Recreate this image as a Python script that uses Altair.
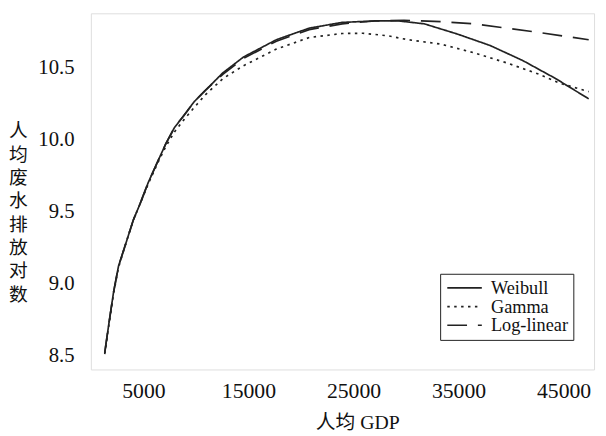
import altair as alt
import pandas as pd

# Weibull fitted curve
weibull_x = [1320, 1690, 2160, 2630, 3250, 4040, 4670, 5460, 6390, 7140,
             7950, 8910, 9830, 10920, 12560, 14530, 17660, 20780, 23920, 27040,
             29320, 31740, 34860, 38000, 41130, 44260, 47390]
weibull_y = [8.52, 8.71, 8.94, 9.12, 9.26, 9.44, 9.55, 9.70, 9.85, 9.97,
             10.08, 10.17, 10.26, 10.34, 10.46, 10.57, 10.69, 10.77, 10.81, 10.82,
             10.82, 10.80, 10.73, 10.65, 10.545, 10.42, 10.28]

# Gamma fitted curve
gamma_x = [1320, 1690, 2160, 2630, 3250, 4040, 4670, 5460, 6390, 7140,
           7950, 8910, 9830, 10920, 12560, 14530, 17660, 20780, 23920, 25870,
           28290, 30170, 33300, 36430, 39560, 42700, 44570, 47390]
gamma_y = [8.51, 8.70, 8.93, 9.11, 9.26, 9.44, 9.55, 9.69, 9.84, 9.95,
           10.05, 10.14, 10.22, 10.31, 10.42, 10.51, 10.625, 10.705, 10.733, 10.735,
           10.717, 10.69, 10.66, 10.60, 10.53, 10.45, 10.39, 10.33]

# Log-linear fitted curve
loglin_x = [1320, 1690, 2160, 2630, 3250, 4040, 4670, 5460, 6390, 7140,
            7950, 8910, 9830, 10920, 12560, 14530, 17660, 20780, 23920, 27040,
            29810, 33300, 36430, 39560, 42700, 47390]
loglin_y = [8.52, 8.71, 8.94, 9.12, 9.26, 9.44, 9.55, 9.70, 9.85, 9.97,
            10.08, 10.17, 10.26, 10.34, 10.45, 10.56, 10.68, 10.76, 10.80, 10.82,
            10.825, 10.815, 10.80, 10.77, 10.74, 10.69]

series_names = ["Weibull", "Gamma", "Log-linear"]
x_ticks = [5000, 15000, 25000, 35000, 45000]
y_ticks = [8.5, 9.0, 9.5, 10.0, 10.5]
y_title_chars = ["人", "均", "废", "水", "排", "放", "对", "数"]
x_title = "人均 GDP"

rows = []
for name, xs, ys in [("Weibull", weibull_x, weibull_y),
                     ("Gamma", gamma_x, gamma_y),
                     ("Log-linear", loglin_x, loglin_y)]:
    for i, (a, b) in enumerate(zip(xs, ys)):
        rows.append({"series": name, "gdp": a, "val": b, "order": i})
df = pd.DataFrame(rows)

SERIF = "Liberation Serif, Noto Sans CJK SC"
CJK = "Noto Sans CJK SC"

chart = alt.Chart(df).mark_line(strokeWidth=1.7, color="#222", strokeCap="butt").encode(
    x=alt.X("gdp:Q",
            scale=alt.Scale(domain=[0, 47900], nice=False, zero=False),
            axis=alt.Axis(values=x_ticks, format="d", title=x_title,
                          grid=False, ticks=False, domain=False,
                          labelFont=SERIF, labelFontSize=22, labelColor="#111",
                          labelPadding=11,
                          titleFont=SERIF, titleFontSize=20, titleFontWeight="normal",
                          titleColor="#111", titleX=270, titleY=54,
                          titleAlign="center", titleBaseline="middle")),
    y=alt.Y("val:Q",
            scale=alt.Scale(domain=[8.404, 10.873], nice=False, zero=False),
            axis=alt.Axis(values=y_ticks, format=".1f", title=y_title_chars,
                          grid=False, ticks=False, domain=False,
                          labelFont=SERIF, labelFontSize=21, labelColor="#111",
                          labelPadding=17,
                          titleFont=CJK, titleFontSize=19, titleFontWeight="normal",
                          titleColor="#111", titleAngle=0, titleX=-74, titleY=119,
                          titleAlign="center", titleBaseline="middle",
                          titleLineHeight=23.7)),
    strokeDash=alt.StrokeDash("series:N",
                              scale=alt.Scale(domain=series_names,
                                              range=[[1, 0], [2.5, 4.5], [20, 11]]),
                              sort=series_names,
                              legend=alt.Legend(title=None, orient="none",
                                                legendX=354, legendY=264,
                                                direction="vertical",
                                                padding=5, strokeColor="#222",
                                                fillColor="white",
                                                symbolType="M-1,0H4",
                                                symbolSize=196,
                                                symbolStrokeWidth=1.6,
                                                symbolStrokeColor="#222",
                                                symbolFillColor="transparent",
                                                labelFont=SERIF, labelFontSize=18.5,
                                                labelColor="#111", labelOffset=28,
                                                rowPadding=0)),
    order="order:Q",
).properties(
    width=510, height=361,
    autosize=alt.AutoSizeParams(type="none"),
    padding={"left": 84, "top": 2.5, "right": 4, "bottom": 62},
).configure_view(
    stroke="#222", strokeWidth=1.8
).configure(background="white")

chart.save("out.html", embed_options={"renderer": "svg", "actions": False})
